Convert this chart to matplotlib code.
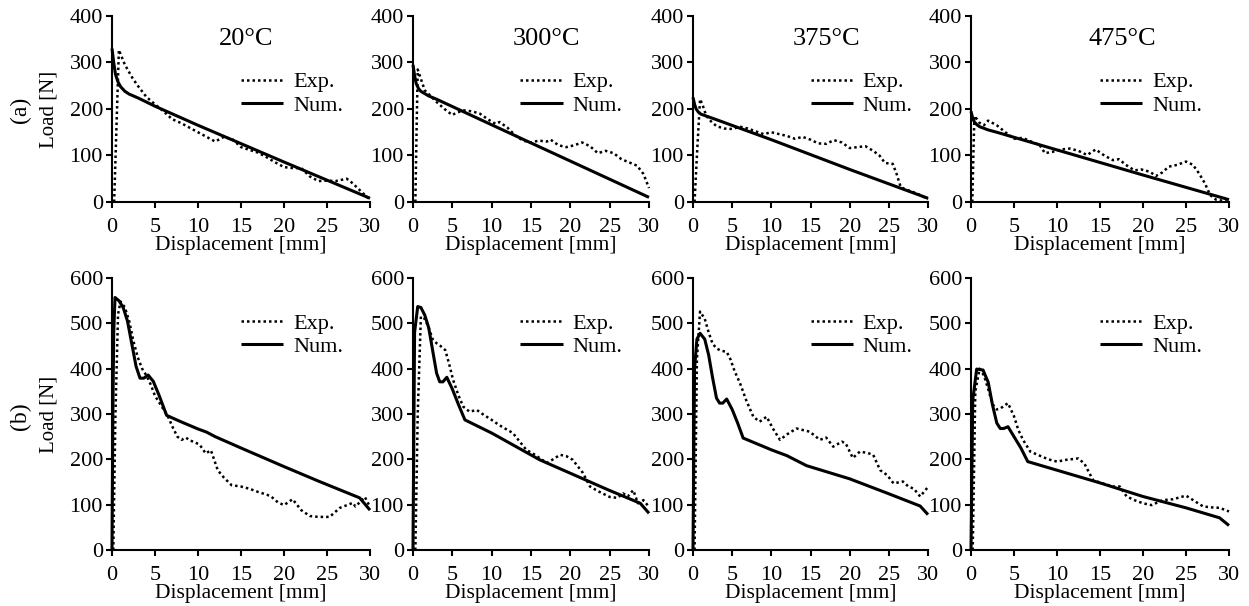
import matplotlib
matplotlib.use('Agg')
import matplotlib.pyplot as plt
from matplotlib.lines import Line2D

plt.rcParams['font.family'] = ['Liberation Serif', 'DejaVu Serif']

temps = ['20°C', '300°C', '375°C', '475°C']
x_ticks = [0, 5, 10, 15, 20, 25, 30]
a_y_ticks = [0, 100, 200, 300, 400]
b_y_ticks = [0, 100, 200, 300, 400, 500, 600]

# ---------------- Row (a) ----------------
a20_num_x = [0, 0.2, 0.4, 0.7, 1, 1.5, 2, 3, 5, 10, 20, 30]
a20_num_y = [330, 300, 275, 258, 248, 238, 232, 224, 206, 165, 86, 8]
a20_exp_x = [0.25, 0.5, 0.8, 1.0, 1.5, 2.4, 3, 4, 5, 6, 7, 8, 9, 10, 11, 12, 13, 14, 15, 16,
             17, 18, 19, 20, 21, 22, 23, 24, 25, 26, 27.3, 28, 29, 30]
a20_exp_y = [0, 150, 327, 318, 295, 266, 250, 226, 210, 195, 178, 170, 160, 150, 140, 130, 140,
             135, 118, 112, 106, 96, 85, 75, 73, 73, 55, 45, 46, 45, 50, 40, 22, 5]

a300_num_x = [0, 0.2, 0.4, 0.7, 1, 2, 3, 10, 20, 30]
a300_num_y = [295, 272, 255, 244, 238, 228, 221, 166, 88, 10]
a300_exp_x = [0.3, 0.45, 0.6, 1.0, 1.5, 2, 3, 4, 5, 5.5, 6.5, 7.5, 8.5, 9.5, 10.5, 11, 12, 13,
              14, 15, 16, 17, 17.5, 18.5, 19.5, 20.5, 21.5, 22.5, 23.5, 24.5, 25.5, 26.5, 27.5,
              28.5, 29.3, 30]
a300_exp_y = [0, 150, 285, 265, 240, 232, 215, 200, 187, 192, 197, 195, 190, 178, 168, 172, 160,
              143, 132, 128, 132, 130, 134, 122, 118, 122, 128, 120, 105, 110, 105, 92, 85, 78,
              60, 30]

a375_num_x = [0, 0.2, 0.4, 0.7, 1, 2, 3, 10, 20, 30]
a375_num_y = [225, 210, 200, 193, 189, 183, 177, 134, 70, 8]
a375_exp_x = [0.2, 0.5, 0.9, 1.2, 1.6, 2, 3, 4, 5, 6, 7, 8, 9, 10, 11, 12, 13, 14, 15, 16, 17,
              18, 19, 20, 21, 22, 23, 23.8, 24.5, 25.5, 26, 26.5, 27, 28, 29, 30]
a375_exp_y = [0, 100, 221, 210, 190, 178, 163, 158, 157, 162, 158, 152, 146, 150, 146, 142, 136,
              140, 134, 126, 125, 133, 128, 116, 118, 120, 110, 100, 84, 82, 60, 33, 28, 22, 15, 6]

a475_num_x = [0, 0.2, 0.4, 0.7, 1, 2, 3, 10, 20, 30]
a475_num_y = [195, 180, 172, 166, 162, 155, 150, 112, 58, 5]
a475_exp_x = [0.15, 0.3, 0.4, 0.7, 1.0, 1.5, 2, 3, 4, 5, 6, 7, 8, 8.6, 9.5, 10.5, 11.5, 12.5,
              13.5, 14.5, 15.5, 16.5, 17.2, 18, 19, 19.8, 20.8, 21.5, 22.2, 23, 24, 25, 25.8,
              26.5, 27.2, 27.8, 28.5, 29.5, 30]
a475_exp_y = [0, 120, 185, 178, 170, 165, 175, 165, 150, 136, 138, 130, 122, 105, 108, 113, 115,
              110, 101, 113, 100, 90, 92, 80, 68, 70, 65, 56, 63, 76, 80, 87, 80, 62, 40, 15, 5,
              2, 0]

# ---------------- Row (b) ----------------
b20_num_x = [0, 0.1, 0.2, 0.35, 0.8, 1.3, 1.8, 2.3, 2.8, 3.26, 3.7, 4.2, 4.8, 5.5, 6.35, 8,
             10, 11, 12, 15, 20, 24, 28.8, 30]
b20_num_y = [0, 300, 480, 557, 550, 535, 505, 455, 405, 379, 379, 386, 372, 340, 297, 283,
             267, 260, 250, 225, 184, 152, 115, 88]
b20_exp_x = [0.15, 0.4, 0.7, 1.0, 1.5, 2, 2.5, 3, 3.5, 4, 4.5, 5, 5.5, 6, 6.5, 7.1, 7.6, 8.1,
             8.6, 9.0, 9.6, 10.2, 10.9, 11.5, 12.3, 13, 13.9, 15, 16, 17, 18, 18.5, 19.3, 20,
             21, 22, 23, 24, 25.3, 26.5, 28, 28.3, 28.8, 29.4, 30]
b20_exp_y = [0, 300, 520, 548, 535, 505, 460, 425, 400, 385, 365, 340, 325, 310, 295, 269, 250,
             243, 248, 242, 238, 232, 213, 220, 176, 160, 143, 140, 135, 128, 122, 118, 105, 99,
             112, 88, 75, 73, 73, 93, 104, 96, 105, 117, 95]

b300_num_x = [0, 0.2, 0.6, 1.0, 1.5, 2, 2.5, 3.0, 3.4, 3.8, 4.3, 5, 5.8, 6.6, 10, 16.1, 24.9,
              28.9, 30]
b300_num_y = [0, 480, 537, 535, 518, 490, 440, 390, 371, 371, 381, 355, 320, 287, 258, 199, 132,
              103, 81]
b300_exp_x = [0.3, 0.6, 1.0, 1.5, 2, 2.5, 3.0, 3.5, 4.1, 4.6, 5.1, 5.8, 6.4, 7.2, 8.1, 9, 10,
              11, 12.7, 14.4, 15.5, 17, 17.8, 18.7, 19.5, 20.3, 21.6, 22.5, 23.5, 25, 26, 26.7,
              27.3, 28, 28.6, 29.3, 30]
b300_exp_y = [0, 300, 515, 510, 490, 465, 456, 450, 441, 410, 375, 340, 316, 305, 309, 298, 287,
              275, 258, 221, 210, 192, 200, 210, 207, 199, 170, 140, 130, 117, 115, 125, 118,
              132, 103, 110, 95]

b375_num_x = [0, 0.2, 0.5, 0.9, 1.5, 2, 2.5, 3.0, 3.4, 3.8, 4.3, 5, 5.7, 6.4, 10, 12, 14.5,
              20, 25, 29, 30]
b375_num_y = [0, 400, 465, 478, 465, 430, 380, 335, 324, 324, 333, 310, 280, 247, 221, 208, 186,
              157, 124, 97, 78]
b375_exp_x = [0.2, 0.5, 0.9, 1.5, 2, 2.5, 3, 3.5, 4.3, 4.8, 5.3, 6.0, 6.8, 7.7, 8.5, 9.4, 10.2,
              11.1, 12, 13.2, 14.9, 16.2, 17, 17.9, 19, 19.5, 20.4, 21.3, 22.3, 23, 23.9, 24.8,
              25.6, 26.8, 27.5, 28.2, 29, 29.9]
b375_exp_y = [0, 420, 526, 510, 480, 455, 445, 440, 437, 420, 395, 368, 330, 294, 283, 294, 268,
              243, 255, 268, 261, 243, 248, 228, 239, 235, 203, 217, 214, 210, 176, 165, 147,
              151, 140, 135, 118, 137]

b475_num_x = [0, 0.2, 0.66, 1.4, 2, 2.5, 3.0, 3.4, 3.8, 4.3, 5, 5.8, 6.6, 10, 15, 20, 25, 28.9,
              30]
b475_num_y = [0, 330, 399, 397, 370, 320, 280, 268, 268, 272, 250, 225, 195, 176, 148, 118, 93,
              71, 54]
b475_exp_x = [0.2, 0.5, 1.0, 1.5, 2, 2.5, 3, 3.4, 4.3, 5, 5.5, 6.05, 6.9, 8, 9, 10, 11.1, 12.5,
              13.2, 14.2, 15.3, 16.5, 17.3, 18.1, 19, 20, 21, 22.3, 23.5, 25, 26, 27, 28, 28.9,
              30]
b475_exp_y = [0, 350, 400, 385, 355, 322, 310, 312, 324, 295, 265, 243, 217, 208, 200, 195, 199,
              202, 190, 154, 147, 140, 140, 118, 110, 103, 99, 110, 112, 120, 108, 96, 94, 93, 85]

row_a = [(a20_exp_x, a20_exp_y, a20_num_x, a20_num_y),
         (a300_exp_x, a300_exp_y, a300_num_x, a300_num_y),
         (a375_exp_x, a375_exp_y, a375_num_x, a375_num_y),
         (a475_exp_x, a475_exp_y, a475_num_x, a475_num_y)]
row_b = [(b20_exp_x, b20_exp_y, b20_num_x, b20_num_y),
         (b300_exp_x, b300_exp_y, b300_num_x, b300_num_y),
         (b375_exp_x, b375_exp_y, b375_num_x, b375_num_y),
         (b475_exp_x, b475_exp_y, b475_num_x, b475_num_y)]

W, H = 1249, 606
fig = plt.figure(figsize=(W / 100, H / 100), dpi=100)

col_px = [(112, 370), (413, 649), (693, 928), (971, 1229)]
row_px = {'a': (16, 202), 'b': (278, 550)}
title_fx = [0.52, 0.565, 0.57, 0.585]
legend_fx = [0.50, 0.455, 0.50, 0.50]

EXP_STYLE = dict(color='black', lw=1.8, linestyle=(0, (1, 1.2)))
NUM_STYLE = dict(color='black', lw=2.2, solid_capstyle='butt')

for r, (rowkey, data, yt) in enumerate([('a', row_a, a_y_ticks), ('b', row_b, b_y_ticks)]):
    top, bot = row_px[rowkey]
    for c in range(4):
        l, rgt = col_px[c]
        ax = fig.add_axes([l / W, 1 - bot / H, (rgt - l) / W, (bot - top) / H])
        ex, ey, nx, ny = data[c]
        ax.plot(ex, ey, **EXP_STYLE, clip_on=False)
        ax.plot(nx, ny, **NUM_STYLE, clip_on=False)
        ax.set_xlim(0, 30)
        ax.set_ylim(yt[0], yt[-1])
        ax.set_xticks(x_ticks)
        ax.set_yticks(yt)
        for s in ['top', 'right']:
            ax.spines[s].set_visible(False)
        for s in ['left', 'bottom']:
            ax.spines[s].set_linewidth(1.5)
        ax.tick_params(direction='out', length=4.5, width=1.5, labelsize=16)
        ax.tick_params(axis='x', pad=7)
        ax.tick_params(axis='y', pad=2)
        ax.set_xlabel('Displacement [mm]', fontsize=15.5, labelpad=-0.5)
        if c == 0:
            ax.set_ylabel('Load [N]', fontsize=15, labelpad=8)
        if r == 0:
            ax.text(title_fx[c], 0.875, temps[c], transform=ax.transAxes,
                    ha='center', va='center', fontsize=19)
        handles = [Line2D([], [], **EXP_STYLE), Line2D([], [], **NUM_STYLE)]
        ly = 0.70 if r == 0 else 0.87
        ax.legend(handles, ['Exp.', 'Num.'], loc='upper left', bbox_to_anchor=(legend_fx[c], ly),
                  frameon=False, fontsize=16, handlelength=1.9, handletextpad=0.45,
                  labelspacing=0.12, borderpad=0, borderaxespad=0)

fig.text(20 / W, 1 - 110 / H, '(a)', rotation=90, ha='center', va='center', fontsize=17)
fig.text(20 / W, 1 - 416 / H, '(b)', rotation=90, ha='center', va='center', fontsize=17)

fig.savefig('out.png', dpi=100)
